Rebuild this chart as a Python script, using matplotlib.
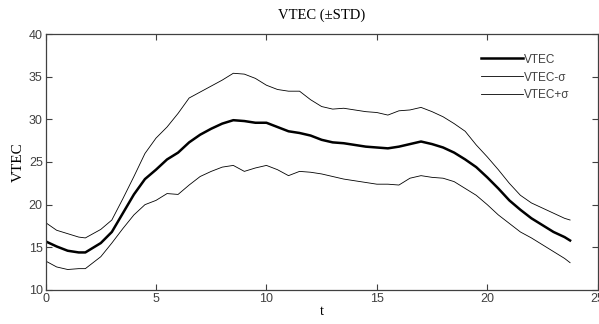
import numpy as np
import matplotlib
matplotlib.use("Agg")
import matplotlib.pyplot as plt

# 時刻 (t) と各系列の値
t = [0, 0.5, 1, 1.5, 1.8, 2.5, 3, 3.5, 4, 4.5, 5, 5.5, 6, 6.5, 7, 7.5, 8, 8.5,
     9, 9.5, 10, 10.5, 11, 11.5, 12, 12.5, 13, 13.5, 14, 14.5, 15, 15.5, 16,
     16.5, 17, 17.5, 18, 18.5, 19, 19.5, 20, 20.5, 21, 21.5, 22, 22.5, 23,
     23.5, 23.75]

vtec = [15.7, 15.1, 14.6, 14.4, 14.4, 15.5, 16.8, 19.0, 21.2, 23.0, 24.1,
        25.3, 26.1, 27.3, 28.2, 28.9, 29.5, 29.9, 29.8, 29.6, 29.6, 29.1,
        28.6, 28.4, 28.1, 27.6, 27.3, 27.2, 27.0, 26.8, 26.7, 26.6, 26.8,
        27.1, 27.4, 27.1, 26.7, 26.1, 25.3, 24.4, 23.2, 21.9, 20.5, 19.4,
        18.4, 17.6, 16.8, 16.2, 15.8]

vtec_minus = [13.4, 12.7, 12.4, 12.5, 12.5, 13.9, 15.5, 17.2, 18.8, 20.0,
              20.5, 21.3, 21.2, 22.3, 23.3, 23.9, 24.4, 24.6, 23.9, 24.3,
              24.6, 24.1, 23.4, 23.9, 23.8, 23.6, 23.3, 23.0, 22.8, 22.6,
              22.4, 22.4, 22.3, 23.1, 23.4, 23.2, 23.1, 22.7, 21.9, 21.1,
              20.0, 18.8, 17.8, 16.8, 16.1, 15.3, 14.5, 13.7, 13.2]

vtec_plus = [17.9, 17.0, 16.6, 16.2, 16.1, 17.1, 18.2, 20.7, 23.3, 26.0,
             27.8, 29.1, 30.7, 32.5, 33.2, 33.9, 34.6, 35.4, 35.3, 34.8,
             34.0, 33.5, 33.3, 33.3, 32.3, 31.5, 31.2, 31.3, 31.1, 30.9,
             30.8, 30.5, 31.0, 31.1, 31.4, 30.9, 30.3, 29.5, 28.6, 27.0,
             25.6, 24.1, 22.5, 21.1, 20.2, 19.6, 19.0, 18.4, 18.2]

serif = ["Liberation Serif", "DejaVu Serif"]
sans = ["Liberation Sans", "DejaVu Sans"]
gray = "#404040"

fig = plt.figure(figsize=(5.99, 3.24), dpi=100)
ax = fig.add_axes([0.0761, 0.105, 0.9217, 0.79])

ax.plot(t, vtec, color="black", linewidth=1.8, label="VTEC")
ax.plot(t, vtec_minus, color="black", linewidth=0.6, label="VTEC-σ")
ax.plot(t, vtec_plus, color="black", linewidth=0.6, label="VTEC+σ")

ax.set_xlim(0, 25)
ax.set_ylim(10, 40)
ax.set_xticks([0, 5, 10, 15, 20, 25])
ax.set_yticks([10, 15, 20, 25, 30, 35, 40])
ax.tick_params(direction="in", top=True, right=True, length=4, width=0.8,
               colors=gray, labelsize=9, pad=2)
for lab in ax.get_xticklabels() + ax.get_yticklabels():
    lab.set_family(sans)
for s in ax.spines.values():
    s.set_color(gray)
    s.set_linewidth(0.9)

ax.set_title("VTEC (±STD)", family=serif, fontsize=10.5, pad=11)
ax.set_xlabel("t", family=serif, fontsize=10.5, labelpad=0)
ax.set_ylabel("VTEC", family=serif, fontsize=11, labelpad=3)

leg = ax.legend(loc="upper left", bbox_to_anchor=(0.77, 0.965), frameon=False,
                prop={"family": sans, "size": 8.5}, handlelength=3.5,
                handletextpad=0.1, labelspacing=0.5)
for txt in leg.get_texts():
    txt.set_color(gray)

fig.savefig("out.png", dpi=100)
